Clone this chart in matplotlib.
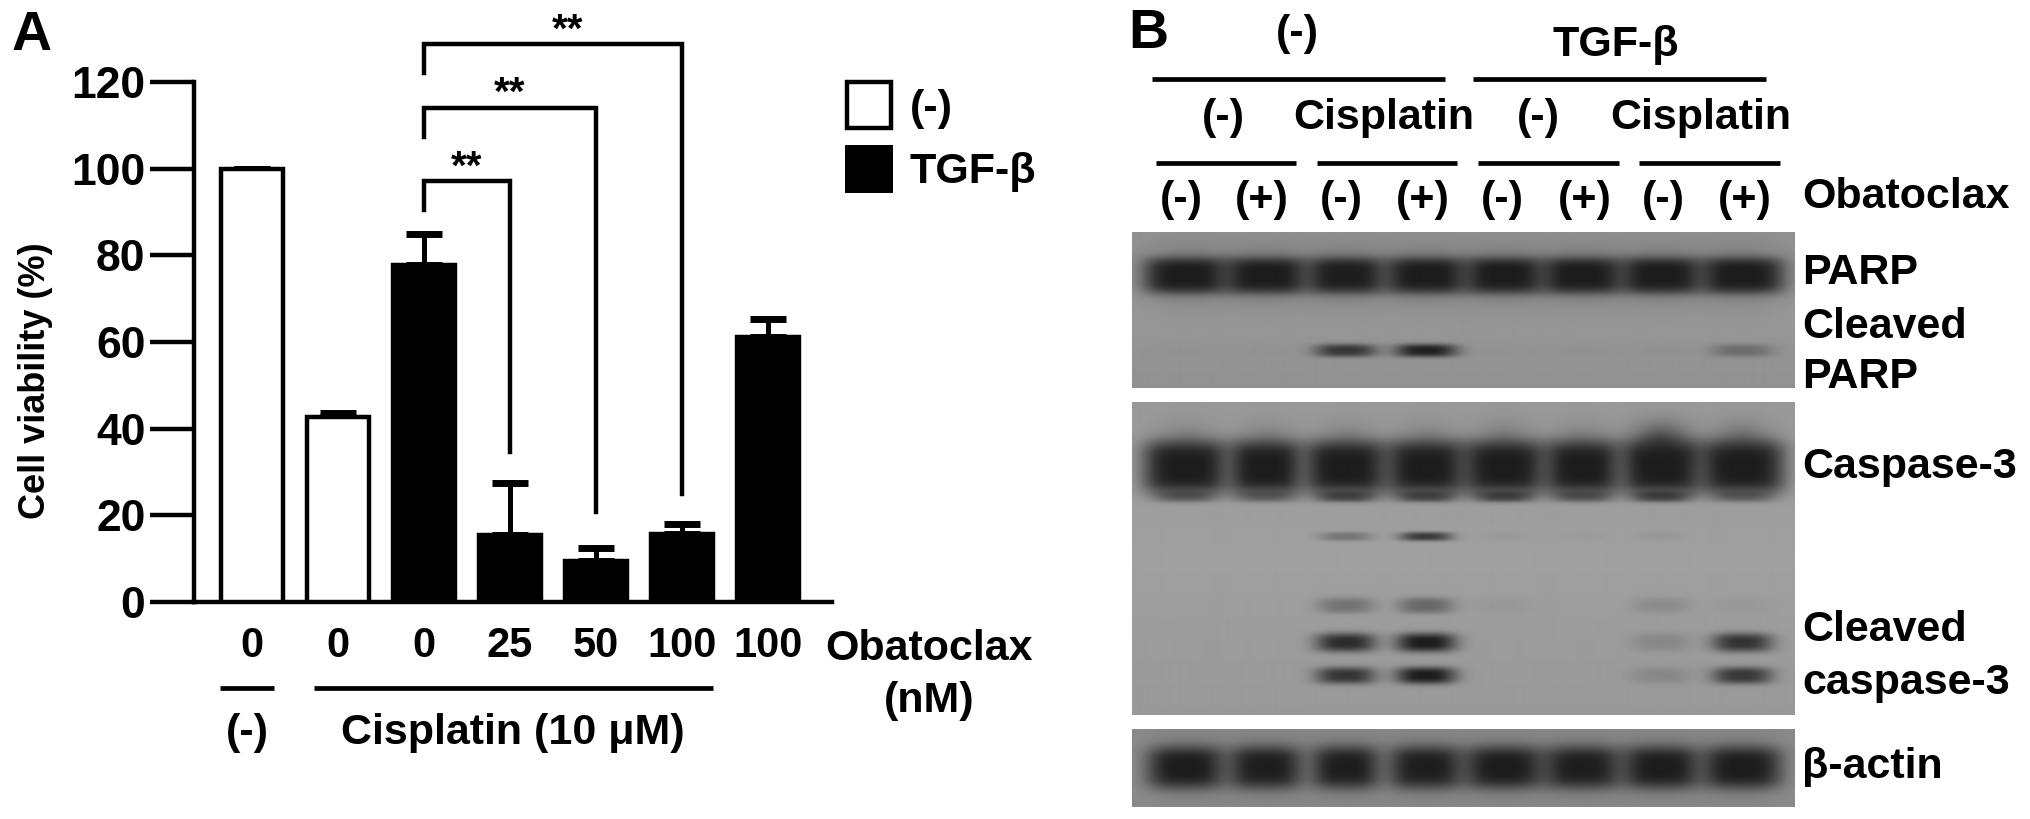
import matplotlib
matplotlib.use("Agg")
import matplotlib.pyplot as plt
from matplotlib.patches import Rectangle
import numpy as np

plt.rcParams["font.family"] = ["Liberation Sans", "DejaVu Sans"]
plt.rcParams["font.weight"] = "bold"

W, H = 2031, 819

# panel A values
obatoclax_nM = ["0", "0", "0", "25", "50", "100", "100"]
viability = [100, 42.8, 77.7, 15.4, 9.4, 15.8, 61.2]
viability_err = [0, 0.9, 7.3, 12.1, 3.0, 2.2, 4.2]
treated = [False, False, True, True, True, True, True]
y_ticks = [0, 20, 40, 60, 80, 100, 120]

# significance brackets: bar index on the right, bracket height, left and right ends
sig_right = [3, 4, 5]
sig_top = [97.1, 114.0, 128.7]
sig_left_end = [90.5, 107.3, 122.0]
sig_right_end = [34.7, 20.8, 25.0]

# panel B band strengths per lane (0 none, 1 saturated)
parp = [1.0, 1.0, 0.98, 1.0, 1.0, 1.0, 1.0, 1.0]
parp_cleaved = [0.02, 0.02, 0.78, 0.97, 0.02, 0.03, 0.03, 0.33]
casp3 = [1.0, 1.0, 1.0, 1.0, 1.0, 1.0, 1.0, 1.0]
casp3_smear = [0.2, 0.2, 0.2, 0.2, 0.25, 0.2, 0.6, 0.35]
casp3_lower = [0.45, 0.4, 0.62, 0.62, 0.65, 0.5, 0.65, 0.4]
casp3_mid = [0.0, 0.0, 0.32, 0.75, 0.04, 0.03, 0.05, 0.0]
casp3_c1 = [0.0, 0.0, 0.33, 0.42, 0.05, 0.0, 0.14, 0.04]
casp3_c2 = [0.0, 0.0, 0.88, 1.0, 0.0, 0.0, 0.16, 0.82]
casp3_c3 = [0.0, 0.0, 0.8, 1.0, 0.0, 0.0, 0.15, 0.78]
actin = [1.0, 0.98, 0.98, 0.98, 1.0, 0.98, 1.0, 1.0]
obatoclax_signs = ["(-)", "(+)", "(-)", "(+)", "(-)", "(+)", "(-)", "(+)"]


def px_axes(left, top, right, bottom):
    return fig.add_axes([left / W, 1 - bottom / H, (right - left) / W, (bottom - top) / H])


fig = plt.figure(figsize=(W / 100, H / 100), dpi=100, facecolor="white")

# Panel A
ax = px_axes(194, 82, 832, 602)
x = np.arange(len(viability))
colors = ["black" if t else "white" for t in treated]
ax.bar(x, viability, width=0.73, color=colors, edgecolor="black", linewidth=3.2, zorder=3)
ax.errorbar(x, viability, yerr=[np.zeros(len(x)), viability_err], fmt="none", ecolor="black",
            elinewidth=3.6, capsize=13, capthick=5, zorder=2)
ax.set_xlim(-0.674, 6.744)
ax.set_ylim(0, 120)
ax.set_yticks(y_ticks)
ax.set_xticks(x)
ax.set_xticklabels(obatoclax_nM)
ax.tick_params(axis="y", length=32, width=3.2, labelsize=32, pad=3)
ax.tick_params(axis="x", length=0, labelsize=30, pad=17)
ax.patch.set_alpha(0)
for side in ["top", "right"]:
    ax.spines[side].set_visible(False)
for side in ["left", "bottom"]:
    ax.spines[side].set_linewidth(3.2)

star_x = [2.5, 3.0, 3.67]
for i in range(len(sig_right)):
    ax.plot([2, 2, sig_right[i], sig_right[i]],
            [sig_left_end[i], sig_top[i], sig_top[i], sig_right_end[i]],
            color="black", lw=3.2, clip_on=False, solid_joinstyle="miter", zorder=4)
    ax.text(star_x[i], sig_top[i] - 1.2, "**", ha="center", va="bottom",
            fontsize=29, clip_on=False)

# overlay in pixel coordinates for the annotations
ov = fig.add_axes([0, 0, 1, 1], zorder=5)
ov.set_xlim(0, W)
ov.set_ylim(H, 0)
ov.axis("off")
ov.patch.set_alpha(0)


def label(px, py, s, size=31, ha="center"):
    ov.text(px, py, s, fontsize=size, ha=ha, va="center", color="black")


def rule(x0, x1, py, lw=3.4):
    ov.plot([x0, x1], [py, py], color="black", lw=lw, solid_capstyle="butt")


ov.text(36, 381, "Cell viability (%)", fontsize=26, rotation=90, ha="center", va="center")
label(32, 36, "A", size=40)
label(1148, 34, "B", size=40)

rule(220, 274, 688)
rule(314, 713, 688)
label(247, 733, "(-)")
label(513, 733, "Cisplatin (10 μM)")
label(929, 649, "Obatoclax")
label(929, 701, "(nM)")

ov.add_patch(Rectangle((847, 82), 44, 46, fc="white", ec="black", lw=3.2))
ov.add_patch(Rectangle((845, 145), 48, 48, fc="black", ec="black", lw=0))
label(910, 109, "(-)", ha="left")
label(910, 172, "TGF-β", ha="left")

# Panel B header
label(1297, 34, "(-)")
label(1616, 45, "TGF-β")
rule(1152, 1445, 79)
rule(1473, 1766, 79)
label(1223, 118, "(-)")
label(1384, 118, "Cisplatin")
label(1538, 118, "(-)")
label(1701, 118, "Cisplatin")
for x0, x1 in [(1156, 1296), (1317, 1457), (1478, 1619), (1639, 1780)]:
    rule(x0, x1, 163)
sign_x = [1181, 1262, 1341, 1423, 1502, 1585, 1663, 1745]
for px, s in zip(sign_x, obatoclax_signs):
    label(px, 200, s)
label(1802, 197, "Obatoclax", ha="left")
label(1802, 273, "PARP", ha="left")
label(1802, 327, "Cleaved", ha="left")
label(1802, 377, "PARP", ha="left")
label(1802, 467, "Caspase-3", ha="left")
label(1802, 630, "Cleaved", ha="left")
label(1802, 683, "caspase-3", ha="left")
label(1802, 767, "β-actin", ha="left")

# Blots
BLOT_L, BLOT_R = 1132, 1794
lane_x = [1185, 1265, 1345, 1425, 1503, 1581, 1660, 1741]


def blot(top, bottom, rows, bg=150):
    # rows: (strengths, y centre, half height, half widths per lane, sharpness)
    yy, xx = np.mgrid[top:bottom, BLOT_L:BLOT_R]
    light = np.ones(xx.shape)
    for strengths, yc, hh, hw, p in rows:
        for i, s in enumerate(strengths):
            if s <= 0:
                continue
            r = np.abs((xx - lane_x[i]) / hw[i]) ** p + np.abs((yy - yc) / hh) ** p
            light *= 1 - s * np.exp(-r)
    shade = bg - 14 * np.abs(yy - (top + bottom) / 2) / (bottom - top)
    img = 28 + (shade - 28) * light
    a = px_axes(BLOT_L, top, BLOT_R, bottom)
    a.imshow(img, cmap="gray", vmin=0, vmax=255, aspect="auto", interpolation="bilinear")
    a.axis("off")


halo_row = [0.3] * 8
blot(232, 388, [(parp, 275, 18, [41, 41, 38, 40, 39, 40, 40, 41], 4),
                (halo_row, 275, 27, [44] * 8, 2),
                (parp_cleaved, 350, 6.5, [31] * 8, 3)], bg=152)
blot(402, 715, [(casp3, 467, 27, [43, 37, 42, 40, 42, 38, 41, 43], 4),
                (casp3_smear, 442, 20, [30] * 8, 2),
                (casp3_lower, 496, 5.5, [29] * 8, 3),
                (casp3_mid, 536, 4.5, [26] * 8, 3),
                (casp3_c1, 605, 8, [28] * 8, 3),
                (casp3_c2, 642, 9.5, [30] * 8, 3),
                (casp3_c3, 675, 8.5, [30] * 8, 3)], bg=160)
blot(729, 807, [(actin, 767, 21, [38, 36, 33, 36, 39, 38, 38, 39], 3.5),
                ([0.25] * 8, 767, 30, [42] * 8, 2)], bg=146)

fig.savefig("out.png", dpi=100, facecolor="white")
plt.close()
